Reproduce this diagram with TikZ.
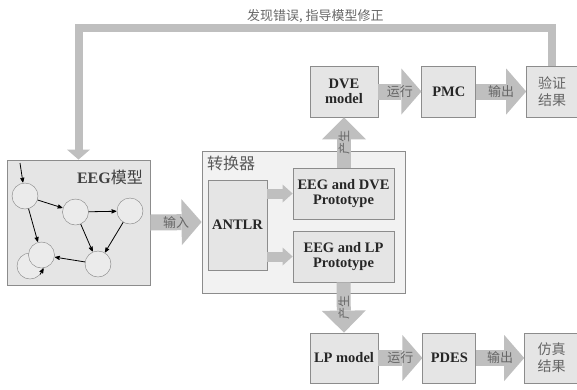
\documentclass[tikz,border=0pt]{standalone}
\usepackage{fontspec}
\setmainfont{Liberation Serif}
\newfontfamily\cjk{Noto Sans CJK SC}
\usetikzlibrary{positioning,arrows,arrows.meta,calc}
\tikzset{
  >=stealth',
  box/.style={rectangle, draw=black!45, line width=0.8pt, fill=black!10, inner sep=0pt,
              align=center, text=black!85, font=\fontsize{14.5}{15.5}\selectfont\bfseries},
  cjkbox/.style={box, text=black!60, font=\fontsize{14}{17}\selectfont\cjk},
  state/.style={circle, draw=black!50, fill=black!8, minimum size=26pt, inner sep=0pt},
  edge/.style={->, thick, shorten >=0.5pt},
  lbl/.style={text=black!60, font=\fontsize{13}{13}\selectfont\cjk, inner sep=0pt},
  flow/.style={black!25, line width=16pt, -{Triangle[length=20pt,width=46pt,line width=0pt]}},
  produce/.style={black!25, line width=14pt, -{Triangle[length=22pt,width=44pt,line width=0pt]}},
  feed/.style={black!25, line width=10pt, -{Triangle[length=10pt,width=18pt,line width=0pt]}},
  loopback/.style={black!25, line width=8pt, line join=miter, -{Triangle[length=10pt,width=23pt,line width=0pt]}}
}

\begin{document}
\begin{tikzpicture}[x=1pt,y=-1pt]
    \useasboundingbox (0,0) rectangle (577,389);
    % EEG model with its state graph
    \node[box, minimum width=143pt, minimum height=125pt] (eeg) at (78.5,222.5) {};
    \node[anchor=east, inner sep=0pt, text=black!75, font=\fontsize{16}{16}\selectfont] (eegname) at (143,177)
         {\textbf{EEG}{\cjk 模型}};
    \node[state] (s1) at (25,196) {};
    \node[state] (s2) at (75.5,212) {};
    \node[state] (s3) at (130,211) {};
    \node[state] (s4b) at (30,266) {};
    \node[state] (s4) at (41.5,255) {};
    \node[state] (s5) at (98,264) {};
    \coordinate (entry) at (20,163);
    \draw[edge] (entry) -- (s1);
    \draw[edge] (s1) -- (s2);
    \draw[edge] (s2) -- (s3);
    \draw[edge] (s1) -- (s4);
    \draw[edge] (s2) -- (s5);
    \draw[edge] (s3) -- (s5);
    \draw[edge] (s5) -- (s4);
    \draw[edge] (s4b.-40) -- (s4.-80);

    % converter
    \node[box, fill=black!5, minimum width=203pt, minimum height=142pt] (conv) at (303.5,222) {};
    \node[anchor=north west, inner sep=0pt, text=black!65, font=\fontsize{16}{16}\selectfont\cjk] (convname)
         at (207,156) {转换器};
    \node[box, minimum width=59pt, minimum height=90pt] (antlr) at (237.5,225) {ANTLR};
    \node[box, minimum width=101pt, minimum height=51pt] (dveproto) at (343.5,193.5) {EEG and DVE\\Prototype};
    \node[box, minimum width=101pt, minimum height=51pt] (lpproto) at (343.5,256.5) {EEG and LP\\Prototype};

    % model checking row
    \node[box, minimum width=68pt, minimum height=51pt] (dvemodel) at (344,91.5) {DVE\\model};
    \node[box, minimum width=54pt, minimum height=51pt, right=43pt of dvemodel] (pmc) {PMC};
    \node[cjkbox, minimum width=51pt, minimum height=51pt, right=50pt of pmc] (verify) {验证\\结果};

    % simulation row
    \node[box, minimum width=68pt, minimum height=50pt] (lpmodel) at (344,358) {LP model};
    \node[box, minimum width=53pt, minimum height=50pt, right=44pt of lpmodel] (pdes) {PDES};
    \node[cjkbox, minimum width=54pt, minimum height=50pt, right=48pt of pdes] (simres) {仿真\\结果};

    % block arrows
    \draw[flow] (eeg.east) -- (conv.west) node[midway, lbl] {输入};
    \draw[feed] (antlr.east |- dveproto) -- (dveproto.west);
    \draw[feed] (antlr.east |- lpproto) -- (lpproto.west);
    \draw[produce] (dvemodel.south |- dveproto.north) -- (dvemodel.south)
          node[midway, lbl, rotate=90, font=\fontsize{12}{12}\selectfont\cjk] {产生};
    \draw[produce] (lpproto.south) -- (lpmodel.north)
          node[midway, lbl, rotate=90, font=\fontsize{12}{12}\selectfont\cjk] {产生};
    \draw[flow] (dvemodel) -- (pmc) node[midway, lbl] {运行};
    \draw[flow] (pmc) -- (verify) node[midway, lbl] {输出};
    \draw[flow] (lpmodel) -- (pdes) node[midway, lbl] {运行};
    \draw[flow] (pdes) -- (simres) node[midway, lbl] {输出};

    % feedback to the EEG model
    \coordinate (fbcorner) at (eeg.north |- 0,28);
    \draw[loopback] (verify.north) |- (fbcorner)
          node[pos=0.75, above=1pt, lbl] {发现错误, 指导模型修正} -- (eeg.north);
\end{tikzpicture}
\end{document}
